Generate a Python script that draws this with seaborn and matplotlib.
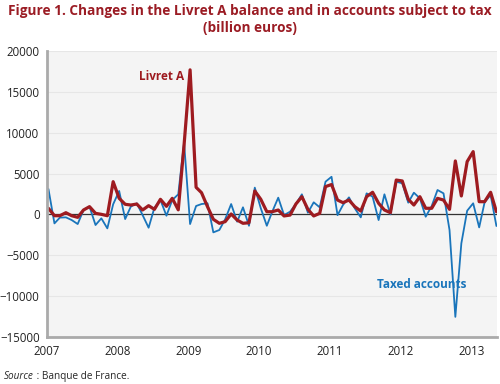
import pandas as pd
import numpy as np
import matplotlib.pyplot as plt
import matplotlib.dates as mdates
import seaborn as sns

# Monthly changes, Jan 2007 - May 2013 (million euros as shown on the axis)
months = pd.date_range("2007-01-01", "2013-05-01", freq="MS") + pd.Timedelta(days=10)

livret_a = [730, -170, -170, 200, -170, -370, 530, 940, 120, 0, -170, 4000,
            1960, 1230, 1140, 1260, 530, 1060, 610, 1840, 980, 1960, 550, 8500,
            17700, 3310, 2650, 930, -610, -1100, -900, 40, -700, -1100, -1030, 2860,
            1840, 320, 320, 530, -200, -90, 1260, 2160, 610, -200, 120, 3400,
            3650, 1750, 1430, 1750, 940, 400, 2160, 2700, 1350, 530, 200, 4200,
            4090, 1840, 1140, 2160, 740, 740, 1960, 1750, 610, 6540, 2250, 6460,
            7680, 1550, 1550, 2700, 320]

taxed_accounts = [3100, -1110, -400, -370, -700, -1190, 530, 940, -1310, -490, -1720, 1230,
                  2860, -580, 940, 1350, -90, -1640, 810, 1750, -170, 1750, 2450, 8800,
                  -1190, 1020, 1260, 1350, -2210, -1920, -610, 1260, -900, 860, -1400, 3270,
                  740, -1400, 320, 2040, -90, 320, 1260, 2450, 200, 1470, 860, 4000,
                  4600, -100, 1140, 2080, 740, -370, 2570, 2160, -700, 2450, 0, 4000,
                  3800, 1430, 2650, 1960, -290, 1020, 2980, 2570, -1930, -12560, -3560, 440,
                  1350, -1600, 1470, 2370, -1430]

y_ticks = [-15000, -10000, -5000, 0, 5000, 10000, 15000, 20000]

red = "#9e1b20"
blue = "#1a75bb"

sns.set_style("whitegrid", {"axes.facecolor": "#f4f4f4", "grid.color": "#e6e6e6",
                            "axes.edgecolor": "#aaaaaa"})
plt.rcParams["font.family"] = ["Open Sans", "DejaVu Sans"]

df = pd.DataFrame({"month": months, "Livret A": livret_a, "Taxed accounts": taxed_accounts})

fig = plt.figure(figsize=(5, 3.84), dpi=100)
ax = fig.add_axes([0.093, 0.123, 0.901, 0.744])

sns.lineplot(data=df, x="month", y="Taxed accounts", color=blue, linewidth=1.3, ax=ax)
sns.lineplot(data=df, x="month", y="Livret A", color=red, linewidth=2.3, ax=ax)

ax.axhline(0, color="#333333", linewidth=0.9, zorder=1)

ax.set_ylim(-15000, 20000)
ax.set_yticks(y_ticks)
ax.set_xlim(pd.Timestamp("2007-01-01"), months[-1] + pd.Timedelta(days=3))
ax.xaxis.set_major_locator(mdates.YearLocator())
ax.xaxis.set_major_formatter(mdates.DateFormatter("%Y"))
ax.grid(axis="x", visible=False)
ax.set_xlabel("")
ax.set_ylabel("")
ax.tick_params(axis="both", labelsize=8.3, colors="#222222", length=3, width=0.8,
               direction="out", pad=2)
ax.tick_params(axis="both", color="#999999")
ax.tick_params(axis="x", pad=3)
for side in ["top", "right"]:
    ax.spines[side].set_visible(False)
for side in ["left", "bottom"]:
    ax.spines[side].set_linewidth(2)

ax.text(pd.Timestamp("2008-12-10"), 16900, "Livret A", color=red, fontsize=8.5,
        fontweight="bold", ha="right", va="center")
ax.text(pd.Timestamp("2012-04-20"), -8600, "Taxed accounts", color=blue, fontsize=8.5,
        fontweight="bold", ha="center", va="center")

fig.text(0.5, 0.972, "Figure 1. Changes in the Livret A balance and in accounts subject to tax",
         ha="center", va="center", fontsize=9.8, fontweight="bold", color="#9b1c24")
fig.text(0.5, 0.928, "(billion euros)", ha="center", va="center", fontsize=9.8,
         fontweight="bold", color="#9b1c24")

# source line: italic "Source" followed by the rest
src = fig.text(0.008, 0.02, "Source", fontsize=7.2, style="italic", ha="left", va="center")
fig.canvas.draw()
bb = src.get_window_extent().transformed(fig.transFigure.inverted())
fig.text(bb.x1, 0.02, " : Banque de France.", fontsize=7.2, ha="left", va="center")

fig.savefig("out.png", dpi=100)
